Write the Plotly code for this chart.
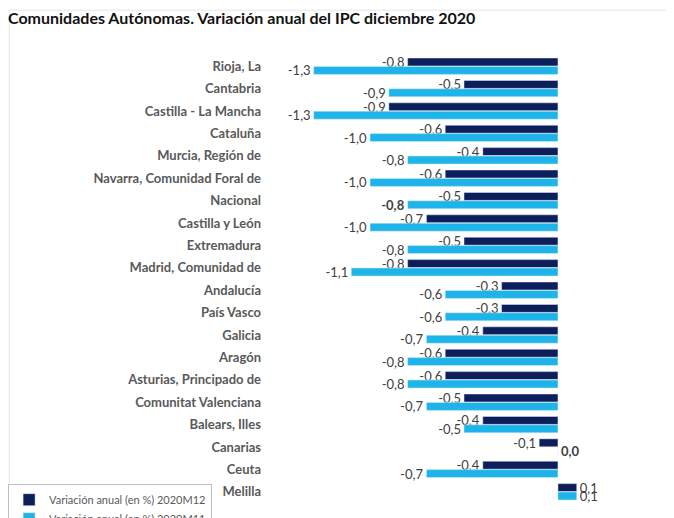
import plotly.graph_objects as go

# Data
regions = [
    "Rioja, La", "Cantabria", "Castilla - La Mancha", "Cataluña",
    "Murcia, Región de", "Navarra, Comunidad Foral de", "Nacional",
    "Castilla y León", "Extremadura", "Madrid, Comunidad de", "Andalucía",
    "País Vasco", "Galicia", "Aragón", "Asturias, Principado de",
    "Comunitat Valenciana", "Balears, Illes", "Canarias", "Ceuta", "Melilla",
]
dec_2020 = [-0.8, -0.5, -0.9, -0.6, -0.4, -0.6, -0.5, -0.7, -0.5, -0.8,
            -0.3, -0.3, -0.4, -0.6, -0.6, -0.5, -0.4, -0.1, -0.4, 0.1]
nov_2020 = [-1.3, -0.9, -1.3, -1.0, -0.8, -1.0, -0.8, -1.0, -0.8, -1.1,
            -0.6, -0.6, -0.7, -0.8, -0.8, -0.7, -0.5, 0.0, -0.7, 0.1]
bold_nov = ["Nacional", "Canarias"]

DARK = "#0c1f5c"
LIGHT = "#1db4ea"


def fmt(v, bold=False):
    s = f"{v:.1f}".replace(".", ",")
    return f"<b>{s}</b>" if bold else s


fig = go.Figure()

fig.add_trace(go.Bar(
    y=regions, x=dec_2020, orientation="h",
    name="Variación anual (en %) 2020M12",
    marker_color=DARK,
    text=[fmt(v) for v in dec_2020],
    textposition="outside",
))

fig.add_trace(go.Bar(
    y=regions, x=nov_2020, orientation="h",
    name="Variación anual (en %) 2020M11",
    marker_color=LIGHT,
    text=[fmt(v, r in bold_nov) for r, v in zip(regions, nov_2020)],
    textposition="outside",
))

fig.update_traces(
    textfont=dict(family="Lato", size=13, color="#404040"),
    constraintext="none",
    cliponaxis=False,
)

# the page body adds an 8px margin, so the figure is drawn a bit smaller
fig.update_layout(
    width=666,
    height=510,
    paper_bgcolor="white",
    plot_bgcolor="white",
    barmode="group",
    bargap=0.25,
    bargroupgap=0.05,
    margin=dict(l=260, r=14, t=47, b=15, autoexpand=False),
    title=dict(
        text="<b>Comunidades Autónomas. Variación anual del IPC diciembre 2020</b>",
        x=0, xref="container", xanchor="left",
        y=0.98, yref="container", yanchor="middle",
        font=dict(family="Lato", size=16, color="#111111"),
    ),
    xaxis=dict(
        range=[-1.543, 0.543],
        showticklabels=False, showgrid=False, zeroline=False,
        showline=False, ticks="",
    ),
    yaxis=dict(
        autorange="reversed",
        tickfont=dict(family="Lato", size=13, color="#595959", weight="bold"),
        showgrid=False, zeroline=False, showline=False, ticks="",
        ticklabelstandoff=6,
    ),
    legend=dict(
        x=-0.663, xanchor="left",
        y=0.042, yanchor="top",
        bordercolor="#bfbfbf", borderwidth=1,
        bgcolor="white",
        font=dict(family="Lato", size=11, color="#595959"),
        tracegroupgap=0, itemwidth=30,
        traceorder="normal",
    ),
    shapes=[dict(
        type="rect", xref="paper", yref="paper",
        x0=-0.66, x1=1.02, y0=-0.1, y1=1.1,
        line=dict(color="#e6e6e6", width=1),
        layer="below",
    )],
)

fig.write_html("out.html")
